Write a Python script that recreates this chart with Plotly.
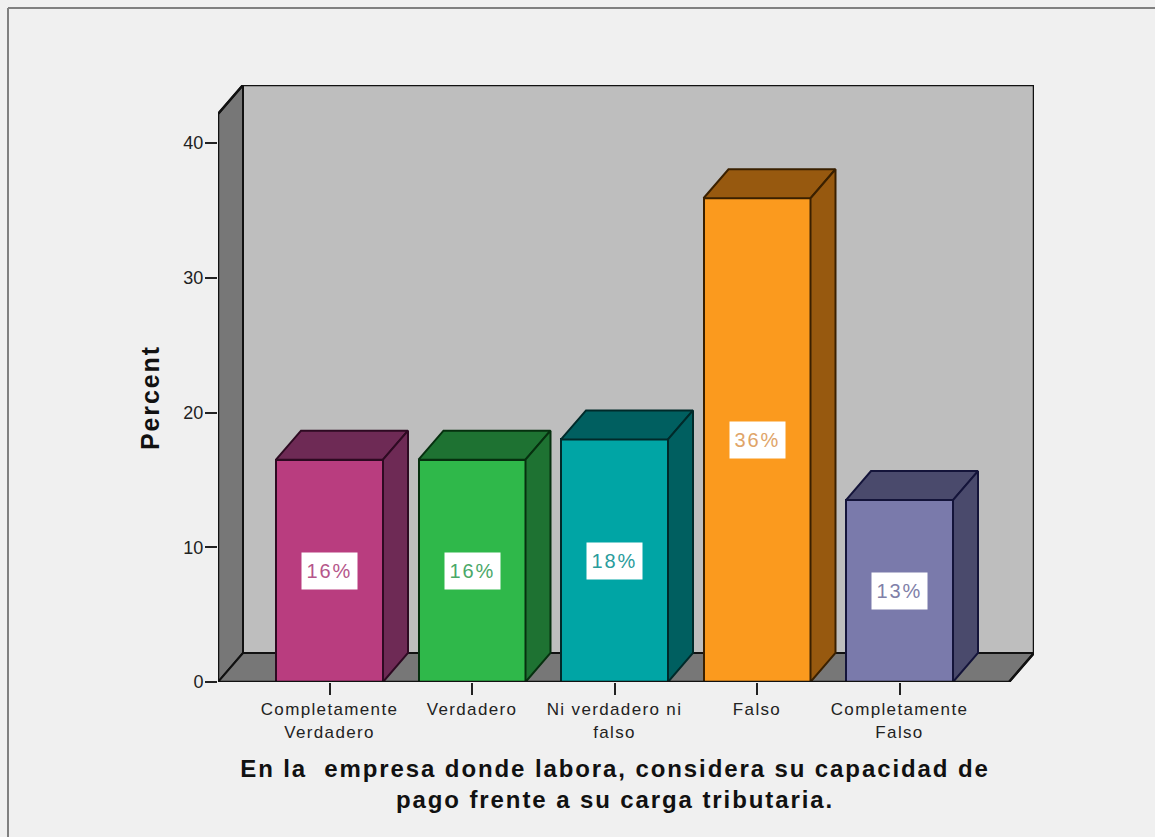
import plotly.graph_objects as go

categories = ["Completamente<br>Verdadero", "Verdadero", "Ni verdadero ni<br>falso", "Falso", "Completamente<br>Falso"]
values = [16.5, 16.5, 18.0, 35.9, 13.5]
labels = ["16%", "16%", "18%", "36%", "13%"]
front_colors = ["#b93d7f", "#2fb84a", "#00a5a5", "#fb9a1e", "#7a7aab"]
side_colors = ["#6e2a55", "#1e7232", "#005f60", "#97590f", "#4a4a6c"]
line_colors = ["#2e0a22", "#06300f", "#002a2a", "#3a2000", "#14143a"]
label_colors = ["#b5568a", "#4aa868", "#2a9c9c", "#e0a468", "#8080a8"]
y_ticks = [0, 10, 20, 30, 40]
x_title = "En la  empresa donde labora, considera su capacidad de<br>pago frente a su carga tributaria."
y_title = "Percent"

W, H = 1155, 837
L, R, T, B = 218, 1034, 85, 682
PX_X = 142.5
PX_Y = 13.475
X0 = 329.5
bar_w = 107 / PX_X
dx = 25 / PX_X
dy = 29 / PX_Y
x_left = (L - X0) / PX_X
x_right = (R - X0) / PX_X
y_top = (B - T) / PX_Y
x_front_right = x_right - dx
y_front_top = y_top - dy
FONT = "Liberation Sans, Arial, sans-serif"

fig = go.Figure()

fig.add_trace(go.Bar(
    x=list(range(len(values))), y=values, width=bar_w,
    marker=dict(color=front_colors, line=dict(color=line_colors, width=2)),
    hoverinfo="skip",
))

for i, v in enumerate(values):
    xl, xr = i - bar_w / 2, i + bar_w / 2
    fig.add_trace(go.Scatter(
        x=[xl, xr, xr + dx, xl + dx, xl], y=[v, v, v + dy, v + dy, v],
        mode="lines", fill="toself", fillcolor=side_colors[i],
        line=dict(color=line_colors[i], width=2), hoverinfo="skip",
    ))
    fig.add_trace(go.Scatter(
        x=[xr, xr + dx, xr + dx, xr, xr], y=[0, dy, v + dy, v, 0],
        mode="lines", fill="toself", fillcolor=side_colors[i],
        line=dict(color=line_colors[i], width=2), hoverinfo="skip",
    ))

# outer outline of the chart box
fig.add_trace(go.Scatter(
    x=[x_left, x_left, x_left + dx, x_right, x_right, x_front_right, x_left],
    y=[0, y_front_top, y_top, y_top, dy, 0, 0],
    mode="lines", line=dict(color="#111111", width=2.5), cliponaxis=False, hoverinfo="skip",
))

shapes = [
    dict(type="rect", layer="below", xref="x", yref="y", x0=x_left + dx, x1=x_right, y0=dy, y1=y_top,
         fillcolor="#bebebe", line=dict(color="#111111", width=2)),
    dict(type="path", layer="below", xref="x", yref="y",
         path=f"M{x_left},0 L{x_left},{y_front_top} L{x_left+dx},{y_top} L{x_left+dx},{dy} Z",
         fillcolor="#777777", line=dict(color="#111111", width=2)),
    dict(type="path", layer="below", xref="x", yref="y",
         path=f"M{x_left},0 L{x_left+dx},{dy} L{x_right},{dy} L{x_front_right},0 Z",
         fillcolor="#777777", line=dict(color="#111111", width=2)),
    # window frame of the screenshot
    dict(type="line", xref="paper", yref="paper", layer="below",
         x0=(8 - L) / (R - L), x1=(8 - L) / (R - L), y0=(B - H) / (B - T), y1=(B - 8) / (B - T),
         line=dict(color="#808080", width=2)),
    dict(type="line", xref="paper", yref="paper", layer="below",
         x0=(8 - L) / (R - L), x1=(W - L) / (R - L), y0=(B - 8) / (B - T), y1=(B - 8) / (B - T),
         line=dict(color="#808080", width=2)),
]

annotations = [
    dict(x=i, y=v / 2, xref="x", yref="y", text=labels[i], showarrow=False,
         bgcolor="#ffffff", width=53, height=34, align="center", valign="middle",
         font=dict(family=FONT, size=20, color=label_colors[i]))
    for i, v in enumerate(values)
]

fig.update_layout(
    width=W, height=H, autosize=False, showlegend=False, bargap=0,
    margin=dict(l=L, r=W - R, t=T, b=H - B, pad=0),
    paper_bgcolor="#f0f0f0", plot_bgcolor="#f0f0f0",
    shapes=shapes, annotations=annotations,
    font=dict(family=FONT, color="#222222"),
    xaxis=dict(range=[x_left, x_right], tickmode="array", tickvals=list(range(len(categories))),
               ticktext=categories, ticks="outside", ticklen=12, tickwidth=2, tickcolor="#222222",
               showgrid=False, zeroline=False, showline=False, tickangle=0,
               tickfont=dict(family=FONT, size=17, color="#222222"),
               title=dict(text="<b>" + x_title.replace("<br>", "</b><br><b>") + "</b>", standoff=20,
                          font=dict(family=FONT, size=24, color="#111111"))),
    yaxis=dict(range=[0, y_top], tickmode="array", tickvals=y_ticks, ticks="outside", ticklen=12,
               tickwidth=2, tickcolor="#222222", showgrid=False, zeroline=False, showline=False,
               ticklabelstandoff=-2,
               tickfont=dict(family=FONT, size=18, color="#222222"),
               title=dict(text=f"<b>{y_title}</b>", standoff=16,
                          font=dict(family=FONT, size=25, color="#111111"))),
)

css = (
    ".xtick text{letter-spacing:1.35px}"
    ".g-xtitle text{letter-spacing:1.9px}"
    ".g-xtitle{transform:translate(-11px,-1px)}"
    ".g-ytitle text{letter-spacing:1.9px}"
    ".g-ytitle{transform:translate(0px,14px)}"
    ".annotation-text{letter-spacing:2px}"
)
post = (
    "document.body.style.margin='0';"
    "var s=document.createElement('style');s.textContent=" + repr(css) + ";document.head.appendChild(s);"
)
fig.write_html("out.html", post_script=post, config={"displayModeBar": False})
